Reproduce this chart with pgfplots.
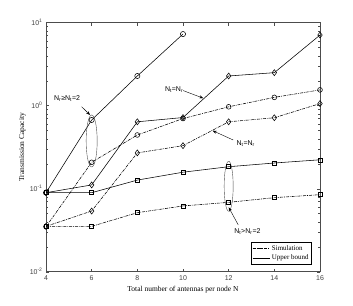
\documentclass[border=0pt]{standalone}
\usepackage{pgfplots}
\pgfplotsset{compat=1.18}
\usepackage{fontspec}
\setmainfont{Liberation Serif}
\newfontfamily\arial{Liberation Sans}
\usetikzlibrary{arrows.meta}
\begin{document}
\begin{tikzpicture}
\useasboundingbox (-46bp,-34.3bp) rectangle (307bp,271.7bp);
\begin{axis}[
  at={(0,0)}, anchor=south west,
  scale only axis, width=274bp, height=249bp,
  ymode=log, xmin=4, xmax=16, ymin=0.01, ymax=10,
  xtick={4,6,8,10,12,14,16},
  ytick={0.01,0.1,1,10},
  yticklabels={10\textsuperscript{-2},10\textsuperscript{-1},10\textsuperscript{0},10\textsuperscript{1}},
  /pgf/number format/assume math mode=true,
  tick label style={font=\arial\fontsize{7}{8}\selectfont, text=black!75},
  axis line style={black!70, line width=0.6pt},
  major tick length=3bp, minor tick length=1.8bp,
  every tick/.style={black!70},
  xlabel={Total number of antennas per node N},
  ylabel={Transmission Capacity},
  label style={font=\fontsize{7.5}{9}\selectfont},
  xlabel style={at={(axis description cs:0.5,-0.072)}, anchor=center},
  ylabel style={at={(axis description cs:-0.0855,0.5)}, anchor=center},
  legend style={at={(axis description cs:0.97,0.03)}, anchor=south east,
    font=\fontsize{7}{8}\selectfont, draw=black, line width=0.5pt,
    inner sep=1pt, row sep=-1pt, cells={anchor=west}},
  legend cell align=left,
  every axis plot/.append style={line width=0.55pt, black},
]
\pgfplotsset{sim/.style={dash pattern=on 3pt off 1pt on 0.8pt off 1pt}}
% legend entries
\addlegendimage{sim}
\addlegendentry{Simulation}
\addlegendimage{solid}
\addlegendentry{Upper bound}
% Nr>=Nt=2 upper bound
\addplot[solid, mark=o, mark size=2.6pt, mark options={solid, fill=white}] coordinates {(4,0.0895)(6,0.673)(8,2.28)(10,7.3)};
% simulation circles
\addplot[sim, mark=o, mark size=2.4pt, mark options={solid, fill=white}] coordinates {(4,0.0348)(6,0.208)(8,0.444)(10,0.70)(12,0.97)(14,1.26)(16,1.55)};
% Nt=Nr upper bound diamonds
\addplot[solid, mark=diamond, mark size=3pt, mark options={solid, fill=white}] coordinates {(4,0.0895)(6,0.111)(8,0.64)(10,0.72)(12,2.28)(14,2.5)(16,7.1)};
% Nt=Nr simulation diamonds
\addplot[sim, mark=diamond, mark size=3pt, mark options={solid, fill=white}] coordinates {(4,0.0352)(6,0.0538)(8,0.27)(10,0.33)(12,0.64)(14,0.716)(16,1.06)};
% Nt>Nr=2 upper bound squares
\addplot[solid, mark=square, mark size=2pt, mark options={solid, fill=white}] coordinates {(4,0.0895)(6,0.0895)(8,0.127)(10,0.158)(12,0.184)(14,0.204)(16,0.223)};
% Nt>Nr=2 simulation squares
\addplot[sim, mark=square, mark size=2pt, mark options={solid, fill=white}] coordinates {(4,0.0352)(6,0.0352)(8,0.0514)(10,0.062)(12,0.0685)(14,0.078)(16,0.0847)};
% ellipses
\draw[black!70, line width=0.4pt] (axis cs:6,0.376) ellipse [x radius=5.5bp, y radius=26bp];
\draw[black!70, line width=0.4pt] (axis cs:12,0.107) ellipse [x radius=4.5bp, y radius=25bp];
% annotations
\node[font=\arial\fontsize{7}{8}\selectfont, anchor=center] at (axis cs:4.92,1.23) {N\textsubscript{r}≥N\textsubscript{t}=2};
\draw[-{Stealth[length=4pt,width=3pt]}, line width=0.4pt] (axis cs:5.56,0.973) -- (axis cs:5.93,0.773);
\node[font=\arial\fontsize{7}{8}\selectfont, anchor=center] at (axis cs:9.61,1.55) {N\textsubscript{t}=N\textsubscript{r}};
\draw[-{Stealth[length=4pt,width=3pt]}, line width=0.4pt] (axis cs:10.01,1.52) -- (axis cs:10.89,1.23);
\node[font=\arial\fontsize{7}{8}\selectfont, anchor=center] at (axis cs:12.75,0.352) {N\textsubscript{t}=N\textsubscript{r}};
\draw[-{Stealth[length=4pt,width=3pt]}, line width=0.4pt] (axis cs:12.2,0.386) -- (axis cs:11.3,0.50);
\node[font=\arial\fontsize{7}{8}\selectfont, anchor=center] at (axis cs:12.82,0.0303) {N\textsubscript{t}>N\textsubscript{r}=2};
\draw[-{Stealth[length=4pt,width=3pt]}, line width=0.4pt] (axis cs:12.42,0.0366) -- (axis cs:12.0,0.0597);
\end{axis}
\end{tikzpicture}
\end{document}
